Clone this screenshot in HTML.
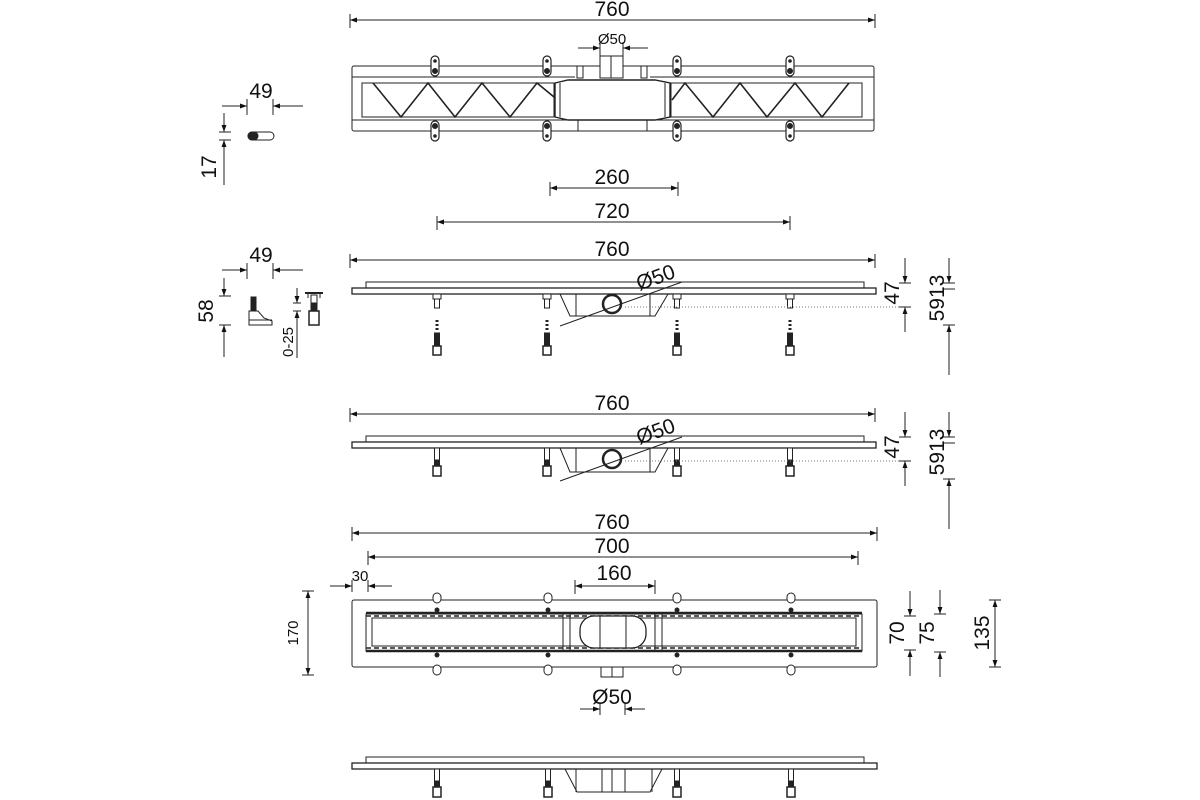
<!DOCTYPE html>
<html><head><meta charset="utf-8"><style>
html,body{margin:0;padding:0;background:#fff;}
svg{display:block;font-family:"Liberation Sans",sans-serif;}
text{fill:#111;}
</style></head><body>
<svg width="1200" height="800" viewBox="0 0 1200 800" xmlns="http://www.w3.org/2000/svg">
<defs>
<marker id="a" viewBox="0 0 10 10" refX="10" refY="5" markerWidth="9" markerHeight="7" orient="auto-start-reverse" markerUnits="userSpaceOnUse"><path d="M0,1.5 L10,5 L0,8.5z" fill="#111"/></marker>
<g id="tabT"><rect x="-4" y="-10" width="8" height="20" rx="4" fill="#fff" stroke="#222" stroke-width="1.2"/><circle cx="0" cy="-5" r="1.3" fill="#222"/><circle cx="0" cy="5" r="2.5" fill="#222"/></g>
<g id="foot"><rect x="-4" y="0" width="8" height="5" fill="#fff" stroke="#222"/><rect x="-2.5" y="5" width="5" height="9" fill="#fff" stroke="#222"/></g>
<g id="bolt"><line x1="0" y1="0" x2="0" y2="10" stroke="#222" stroke-width="3" stroke-dasharray="2 2"/><rect x="-2.5" y="13" width="5" height="14" fill="#222"/><rect x="-4" y="26" width="8" height="9" fill="#fff" stroke="#222" stroke-width="1.5"/></g>
<g id="leg"><rect x="-2.5" y="0" width="5" height="12" fill="#fff" stroke="#222"/><rect x="-2.5" y="12" width="5" height="6" fill="#222"/><rect x="-4" y="18" width="8" height="10" fill="#fff" stroke="#222" stroke-width="1.5"/></g>
</defs>
<g stroke="#222" stroke-width="1" fill="none">
<!-- ===== top plan view ===== -->
<line x1="350" y1="20" x2="875" y2="20" marker-start="url(#a)" marker-end="url(#a)"/>
<line x1="350" y1="14" x2="350" y2="28"/><line x1="875" y1="14" x2="875" y2="28"/>
<line x1="578" y1="48" x2="600" y2="48" marker-end="url(#a)"/><line x1="648" y1="48" x2="623" y2="48" marker-end="url(#a)"/>
<line x1="600" y1="42" x2="600" y2="56"/><line x1="623" y1="42" x2="623" y2="56"/>
<rect x="352" y="66" width="522" height="65" rx="2"/>
<line x1="352" y1="77" x2="575" y2="77"/><line x1="650" y1="77" x2="874" y2="77"/>
<line x1="352" y1="120" x2="874" y2="120"/>
<rect x="362" y="83" width="500" height="34"/>
<rect x="600" y="56" width="23" height="22" fill="#fff"/><line x1="611" y1="56" x2="611" y2="78"/>
<rect x="577" y="66" width="6" height="12"/><rect x="641" y="66" width="6" height="12"/>
<path d="M555 83 L568 80 L655 80 L670 83 L670 117 L655 120 L568 120 L555 117 Z" fill="#fff" stroke-width="1.4"/>
<line x1="554" y1="83" x2="554" y2="117"/><line x1="560" y1="83" x2="560" y2="117"/><line x1="665" y1="83" x2="665" y2="117"/><line x1="671" y1="83" x2="671" y2="117"/>
<line x1="578" y1="120" x2="578" y2="131"/><line x1="647" y1="120" x2="647" y2="131"/>
<polyline points="373,83 401,117 428,83 455,117 482,83 510,117 537,83 554,97" stroke-width="1.6"/>
<polyline points="672,100 685,83 713,117 740,83 767,117 795,83 822,117 849,83" stroke-width="1.6"/>
<use href="#tabT" x="435" y="66"/><use href="#tabT" x="547" y="66"/><use href="#tabT" x="677" y="66"/><use href="#tabT" x="790" y="66"/>
<g transform="translate(0,197) scale(1,-1)"><use href="#tabT" x="435" y="66"/><use href="#tabT" x="547" y="66"/><use href="#tabT" x="677" y="66"/><use href="#tabT" x="790" y="66"/></g>
<!-- 260 / 720 -->
<line x1="550" y1="188" x2="678" y2="188" marker-start="url(#a)" marker-end="url(#a)"/>
<line x1="550" y1="182" x2="550" y2="196"/><line x1="678" y1="182" x2="678" y2="196"/>
<line x1="437" y1="222" x2="790" y2="222" marker-start="url(#a)" marker-end="url(#a)"/>
<line x1="437" y1="216" x2="437" y2="230"/><line x1="790" y1="216" x2="790" y2="230"/>
<!-- left details -->
<line x1="222" y1="106" x2="247" y2="106" marker-end="url(#a)"/><line x1="303" y1="106" x2="273" y2="106" marker-end="url(#a)"/>
<line x1="247" y1="99" x2="247" y2="115"/><line x1="273" y1="99" x2="273" y2="115"/>
<rect x="248" y="132" width="26" height="8" rx="4"/><rect x="248" y="132" width="10" height="8" rx="4" fill="#222"/>
<line x1="224" y1="113" x2="224" y2="132" marker-end="url(#a)"/><line x1="224" y1="185" x2="224" y2="140" marker-end="url(#a)"/>
<line x1="219" y1="132" x2="231" y2="132"/><line x1="219" y1="140" x2="231" y2="140"/>
<line x1="222" y1="270" x2="247" y2="270" marker-end="url(#a)"/><line x1="303" y1="270" x2="273" y2="270" marker-end="url(#a)"/>
<line x1="247" y1="263" x2="247" y2="279"/><line x1="273" y1="263" x2="273" y2="279"/>
<line x1="224" y1="278" x2="224" y2="296" marker-end="url(#a)"/><line x1="224" y1="357" x2="224" y2="325" marker-end="url(#a)"/>
<line x1="219" y1="296" x2="231" y2="296"/><line x1="219" y1="325" x2="231" y2="325"/>
<rect x="251" y="297" width="5" height="14" fill="#222"/>
<path d="M249 311 L258 311 L264 318 L272 321 L272 325 L249 325 Z"/><line x1="249" y1="320" x2="272" y2="320"/>
<line x1="297" y1="288" x2="297" y2="303" marker-end="url(#a)"/><line x1="297" y1="358" x2="297" y2="311" marker-end="url(#a)"/>
<line x1="293" y1="303" x2="301" y2="303"/><line x1="293" y1="311" x2="301" y2="311"/>
<g transform="translate(314,293)"><line x1="-9" y1="0" x2="9" y2="0" stroke-width="2"/><line x1="-6" y1="0" x2="-6" y2="5"/><line x1="6" y1="0" x2="6" y2="5"/><rect x="-3" y="2" width="6" height="8"/><rect x="-3" y="10" width="6" height="8" fill="#222"/><rect x="-5" y="18" width="10" height="14" stroke-width="1.5"/></g>
<!-- ===== side view 1 ===== -->
<line x1="350" y1="260" x2="875" y2="260" marker-start="url(#a)" marker-end="url(#a)"/>
<line x1="350" y1="254" x2="350" y2="268"/><line x1="875" y1="254" x2="875" y2="268"/>
<rect x="352" y="288" width="524" height="6" fill="#fff" stroke-width="1.3"/>
<rect x="366" y="282" width="498" height="6"/>
<path d="M560 294 L570 316 L655 316 L668 294"/><line x1="576" y1="294" x2="576" y2="316"/><line x1="650" y1="294" x2="650" y2="316"/>
<circle cx="612" cy="304" r="9" stroke-width="2.5"/>
<line x1="560" y1="326" x2="682" y2="282"/>
<use href="#foot" x="437" y="294"/><use href="#foot" x="547" y="294"/><use href="#foot" x="677" y="294"/><use href="#foot" x="790" y="294"/>
<use href="#bolt" x="437" y="320"/><use href="#bolt" x="547" y="320"/><use href="#bolt" x="677" y="320"/><use href="#bolt" x="790" y="320"/>
<line x1="625" y1="307" x2="908" y2="307" stroke-dasharray="1 2" stroke="#777"/>
<line x1="905" y1="258" x2="905" y2="283" marker-end="url(#a)"/><line x1="905" y1="332" x2="905" y2="307" marker-end="url(#a)"/>
<line x1="899" y1="283" x2="911" y2="283"/><line x1="899" y1="307" x2="911" y2="307"/>
<line x1="949" y1="258" x2="949" y2="283" marker-end="url(#a)"/><line x1="949" y1="375" x2="949" y2="325" marker-end="url(#a)"/>
<line x1="943" y1="283" x2="955" y2="283"/><line x1="943" y1="289" x2="955" y2="289"/><line x1="943" y1="325" x2="955" y2="325"/>
<!-- ===== side view 2 ===== -->
<line x1="350" y1="414" x2="875" y2="414" marker-start="url(#a)" marker-end="url(#a)"/>
<line x1="350" y1="408" x2="350" y2="422"/><line x1="875" y1="408" x2="875" y2="422"/>
<rect x="352" y="442" width="524" height="6" fill="#fff" stroke-width="1.3"/>
<rect x="366" y="436" width="498" height="6"/>
<path d="M560 448 L570 472 L655 472 L668 448"/><line x1="576" y1="448" x2="576" y2="472"/><line x1="650" y1="448" x2="650" y2="472"/>
<circle cx="612" cy="459" r="9" stroke-width="2.5"/>
<line x1="560" y1="481" x2="682" y2="437"/>
<use href="#leg" x="437" y="448"/><use href="#leg" x="547" y="448"/><use href="#leg" x="677" y="448"/><use href="#leg" x="790" y="448"/>
<line x1="625" y1="461" x2="908" y2="461" stroke-dasharray="1 2" stroke="#777"/>
<line x1="905" y1="412" x2="905" y2="437" marker-end="url(#a)"/><line x1="905" y1="486" x2="905" y2="461" marker-end="url(#a)"/>
<line x1="899" y1="437" x2="911" y2="437"/><line x1="899" y1="461" x2="911" y2="461"/>
<line x1="949" y1="412" x2="949" y2="437" marker-end="url(#a)"/><line x1="949" y1="529" x2="949" y2="479" marker-end="url(#a)"/>
<line x1="943" y1="437" x2="955" y2="437"/><line x1="943" y1="443" x2="955" y2="443"/><line x1="943" y1="479" x2="955" y2="479"/>
<!-- ===== bottom plan view ===== -->
<line x1="352" y1="533" x2="877" y2="533" marker-start="url(#a)" marker-end="url(#a)"/>
<line x1="352" y1="527" x2="352" y2="541"/><line x1="877" y1="527" x2="877" y2="541"/>
<line x1="368" y1="557" x2="858" y2="557" marker-start="url(#a)" marker-end="url(#a)"/>
<line x1="368" y1="551" x2="368" y2="565"/><line x1="858" y1="551" x2="858" y2="565"/>
<line x1="330" y1="586" x2="352" y2="586" marker-end="url(#a)"/><line x1="392" y1="586" x2="368" y2="586" marker-end="url(#a)"/>
<line x1="352" y1="580" x2="352" y2="592"/><line x1="368" y1="580" x2="368" y2="592"/>
<line x1="575" y1="586" x2="655" y2="586" marker-start="url(#a)" marker-end="url(#a)"/>
<line x1="575" y1="580" x2="575" y2="594"/><line x1="655" y1="580" x2="655" y2="594"/>
<rect x="352" y="600" width="525" height="67" rx="2"/>
<rect x="366" y="614" width="496" height="37"/>
<line x1="366" y1="613" x2="862" y2="613" stroke-width="2.5"/><line x1="366" y1="651" x2="862" y2="651" stroke-width="2.5"/>
<line x1="366" y1="616" x2="862" y2="616" stroke-dasharray="5 3" stroke-width="1.5"/><line x1="366" y1="648" x2="862" y2="648" stroke-dasharray="5 3" stroke-width="1.5"/>
<rect x="372" y="618" width="484" height="28"/>
<rect x="580" y="616" width="66" height="32" rx="14" fill="#fff" stroke-width="1.3"/>
<line x1="600" y1="616" x2="600" y2="648"/><line x1="626" y1="616" x2="626" y2="648"/>
<line x1="563" y1="614" x2="563" y2="651"/><line x1="570" y1="614" x2="570" y2="651"/><line x1="655" y1="614" x2="655" y2="651"/><line x1="662" y1="614" x2="662" y2="651"/>
<g fill="#fff"><rect x="433" y="593" width="8" height="10" rx="4"/><rect x="544" y="593" width="8" height="10" rx="4"/><rect x="673" y="593" width="8" height="10" rx="4"/><rect x="787" y="593" width="8" height="10" rx="4"/>
<rect x="433" y="665" width="8" height="10" rx="4"/><rect x="544" y="665" width="8" height="10" rx="4"/><rect x="673" y="665" width="8" height="10" rx="4"/><rect x="787" y="665" width="8" height="10" rx="4"/></g>
<g fill="#222" stroke="none"><circle cx="437" cy="610" r="2.5"/><circle cx="548" cy="610" r="2.5"/><circle cx="677" cy="610" r="2.5"/><circle cx="791" cy="610" r="2.5"/>
<circle cx="437" cy="655" r="2.5"/><circle cx="548" cy="655" r="2.5"/><circle cx="677" cy="655" r="2.5"/><circle cx="791" cy="655" r="2.5"/></g>
<rect x="601" y="667" width="22" height="10"/><line x1="612" y1="667" x2="612" y2="677"/>
<line x1="580" y1="709" x2="600" y2="709" marker-end="url(#a)"/><line x1="645" y1="709" x2="625" y2="709" marker-end="url(#a)"/>
<line x1="600" y1="703" x2="600" y2="715"/><line x1="625" y1="703" x2="625" y2="715"/>
<line x1="308" y1="591" x2="308" y2="675" marker-start="url(#a)" marker-end="url(#a)"/>
<line x1="302" y1="591" x2="314" y2="591"/><line x1="302" y1="675" x2="314" y2="675"/>
<line x1="910" y1="591" x2="910" y2="616" marker-end="url(#a)"/><line x1="910" y1="676" x2="910" y2="650" marker-end="url(#a)"/>
<line x1="904" y1="616" x2="916" y2="616"/><line x1="904" y1="650" x2="916" y2="650"/>
<line x1="940" y1="590" x2="940" y2="614" marker-end="url(#a)"/><line x1="940" y1="677" x2="940" y2="652" marker-end="url(#a)"/>
<line x1="934" y1="614" x2="946" y2="614"/><line x1="934" y1="652" x2="946" y2="652"/>
<line x1="995" y1="600" x2="995" y2="667" marker-start="url(#a)" marker-end="url(#a)"/>
<line x1="989" y1="600" x2="1001" y2="600"/><line x1="989" y1="667" x2="1001" y2="667"/>
<!-- ===== bottom side view ===== -->
<rect x="352" y="763" width="525" height="6" fill="#fff" stroke-width="1.3"/>
<rect x="366" y="757" width="498" height="6"/>
<path d="M565 769 L577 792 L650 792 L662 769"/><line x1="576" y1="769" x2="576" y2="792"/><line x1="602" y1="769" x2="602" y2="792"/><line x1="612" y1="769" x2="612" y2="792"/><line x1="625" y1="769" x2="625" y2="792"/><line x1="652" y1="769" x2="652" y2="792"/>
<use href="#leg" x="437" y="769"/><use href="#leg" x="548" y="769"/><use href="#leg" x="677" y="769"/><use href="#leg" x="791" y="769"/>
</g>
<!-- texts -->
<g font-size="21" text-anchor="middle">
<text x="612" y="16">760</text>
<text x="612" y="184">260</text>
<text x="612" y="218">720</text>
<text x="612" y="256">760</text>
<text x="612" y="410">760</text>
<text x="612" y="529">760</text>
<text x="612" y="553">700</text>
<text x="614" y="580">160</text>
<text x="612" y="704">Ø50</text>
<text x="261" y="98">49</text>
<text x="261" y="262">49</text>
<text transform="translate(658,284) rotate(-20)">Ø50</text>
<text transform="translate(658,438) rotate(-20)">Ø50</text>
<text transform="translate(216,167) rotate(-90)">17</text>
<text transform="translate(213,311) rotate(-90)">58</text>
<text transform="translate(899,293) rotate(-90)">47</text>
<text transform="translate(944,298) rotate(-90)">5913</text>
<text transform="translate(899,447) rotate(-90)">47</text>
<text transform="translate(944,452) rotate(-90)">5913</text>
<text transform="translate(904,633) rotate(-90)">70</text>
<text transform="translate(934,633) rotate(-90)">75</text>
<text transform="translate(989,633) rotate(-90)">135</text>
</g>
<g font-size="15" text-anchor="middle">
<text x="612" y="44">Ø50</text>
<text x="360" y="581">30</text>
<text transform="translate(298,633) rotate(-90)">170</text>
<text transform="translate(293,342) rotate(-90)">0-25</text>
</g>
</svg>
</body></html>
